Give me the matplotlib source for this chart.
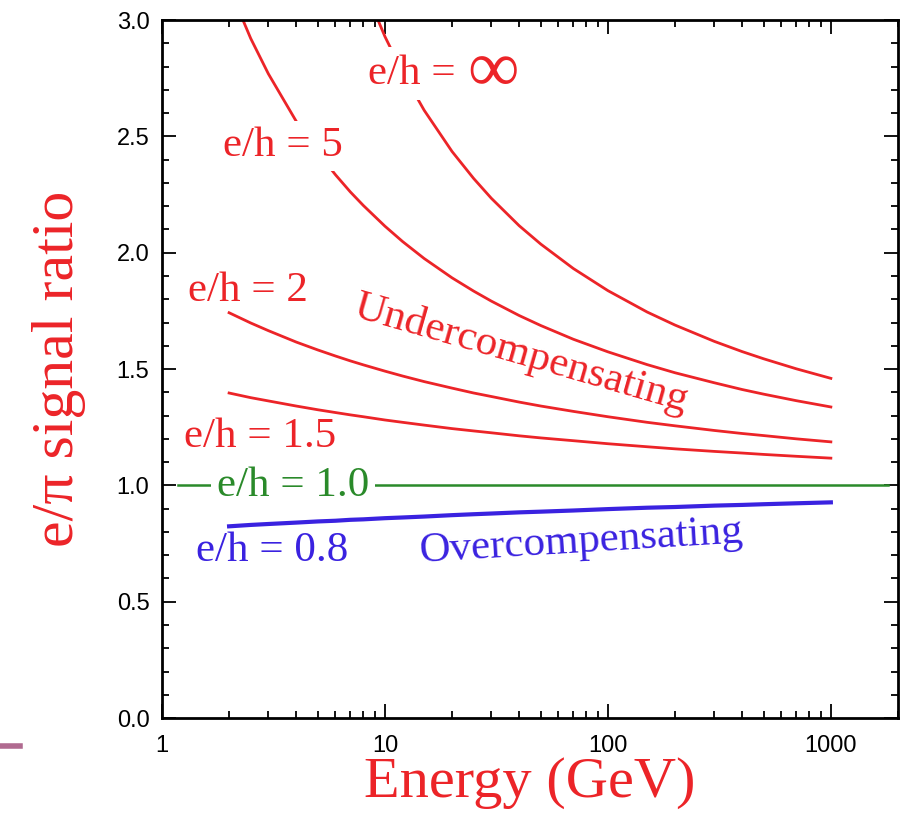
import matplotlib
matplotlib.use("Agg")
import matplotlib.pyplot as plt
from matplotlib.ticker import MultipleLocator, FixedLocator, LogLocator, NullFormatter

# e/pi signal ratio, one list per e/h value
energy = [2, 2.5, 3, 4, 5, 6, 7, 8, 10, 12, 15, 20, 25, 30, 40, 50, 70,
          100, 150, 200, 300, 400, 500, 700, 1000]
energy_inf = [8, 10, 12, 15, 20, 25, 30, 40, 50, 70,
              100, 150, 200, 300, 400, 500, 700, 1000]
ratio_inf = [3.150, 2.929, 2.775, 2.612, 2.435, 2.319, 2.234, 2.116, 2.037, 1.932,
             1.837, 1.745, 1.689, 1.619, 1.575, 1.544, 1.501, 1.460]
ratio_5 = [3.141, 2.921, 2.769, 2.565, 2.431, 2.335, 2.261, 2.203, 2.114, 2.048,
           1.975, 1.892, 1.835, 1.792, 1.730, 1.687, 1.628,
           1.574, 1.519, 1.484, 1.441, 1.412, 1.392, 1.364, 1.337]
ratio_2 = [1.742, 1.698, 1.665, 1.616, 1.582, 1.556, 1.535, 1.518, 1.491, 1.470,
           1.446, 1.418, 1.397, 1.382, 1.358, 1.341, 1.318,
           1.295, 1.271, 1.256, 1.236, 1.223, 1.214, 1.200, 1.187]
ratio_15 = [1.397, 1.377, 1.363, 1.341, 1.325, 1.313, 1.303, 1.295, 1.281, 1.271,
            1.259, 1.244, 1.234, 1.226, 1.213, 1.204, 1.192,
            1.179, 1.166, 1.157, 1.146, 1.139, 1.133, 1.125, 1.117]
ratio_08 = [0.824, 0.830, 0.834, 0.840, 0.845, 0.848, 0.852, 0.854, 0.859, 0.862,
            0.866, 0.872, 0.876, 0.879, 0.884, 0.887, 0.892,
            0.898, 0.904, 0.907, 0.913, 0.916, 0.919, 0.923, 0.927]
energy_1 = [1.18, 1800]
ratio_1 = [1.0, 1.0]

RED = "#ec2428"
GREEN = "#2a8a2a"
BLUE = "#3a22e0"
SERIF = ["Liberation Serif", "DejaVu Serif"]

fig = plt.figure(figsize=(9.11, 8.18), dpi=100)
ax = fig.add_axes([0.1778, 0.1222, 0.8079, 0.8533])

ax.plot(energy_inf, ratio_inf, color=RED, lw=2)
ax.plot(energy, ratio_5, color=RED, lw=2)
ax.plot(energy, ratio_2, color=RED, lw=2)
ax.plot(energy, ratio_15, color=RED, lw=2)
ax.plot(energy_1, ratio_1, color=GREEN, lw=1.8)
ax.plot(energy, ratio_08, color=BLUE, lw=3)

ax.set_xscale("log")
ax.set_xlim(1, 2000)
ax.set_ylim(0, 3.0)

ax.xaxis.set_major_locator(FixedLocator([1, 10, 100, 1000]))
ax.set_xticklabels(["1", "10", "100", "1000"])
ax.xaxis.set_minor_locator(LogLocator(base=10, subs=range(2, 10)))
ax.xaxis.set_minor_formatter(NullFormatter())
ax.yaxis.set_major_locator(MultipleLocator(0.5))
ax.yaxis.set_minor_locator(MultipleLocator(0.1))
ax.set_yticklabels([f"{v:.1f}" for v in ax.get_yticks()])

ax.tick_params(which="both", direction="in", top=True, right=True,
               labelsize=17, width=1.3)
ax.tick_params(which="major", length=10)
ax.tick_params(which="minor", length=5)
ax.tick_params(axis="x", pad=12)
ax.tick_params(axis="y", pad=9)
for lab in ax.get_xticklabels() + ax.get_yticklabels():
    lab.set_family(["Liberation Sans", "DejaVu Sans"])
for s in ax.spines.values():
    s.set_linewidth(2)

ax.set_xlabel("Energy (GeV)", fontsize=42, color=RED, family=SERIF, labelpad=0)
ax.set_ylabel("e/\u03c0 signal ratio", fontsize=43, color=RED, family=SERIF, labelpad=22)

lab_kw = dict(family=SERIF, fontsize=31, ha="center", va="center", zorder=5)
ax.text(8.39, 2.77, "e/h =", color=RED, family=SERIF, fontsize=31, ha="left",
        va="center", zorder=5, bbox=dict(facecolor="white", edgecolor="none", pad=5))
ax.text(30.5, 2.77, "\u221e", color=RED, family=SERIF, fontsize=52,
        ha="center", va="center", zorder=5)
ax.text(3.49, 2.46, "e/h = 5", color=RED,
        bbox=dict(facecolor="white", edgecolor="none", pad=4), **lab_kw)
ax.text(2.43, 1.835, "e/h = 2", color=RED, **lab_kw)
ax.text(2.75, 1.21, "e/h = 1.5", color=RED, **lab_kw)
ax.text(3.11, 0.72, "e/h = 0.8", color=BLUE, **lab_kw)
ax.text(3.87, 1.0, "e/h = 1.0", color=GREEN,
        bbox=dict(facecolor="white", edgecolor="none", pad=4), **lab_kw)
ax.text(40.7, 1.565, "Undercompensating", color=RED, rotation=-16,
        rotation_mode="anchor", **lab_kw)
ax.text(75.7, 0.755, "Overcompensating", color=BLUE, rotation=3.5,
        rotation_mode="anchor", **lab_kw)

# small slide artefact at the left edge
fig.add_artist(plt.Line2D([0, 0.022], [0.088, 0.088], transform=fig.transFigure,
                          color="#b06a90", lw=4))

fig.savefig("out.png", dpi=100)
